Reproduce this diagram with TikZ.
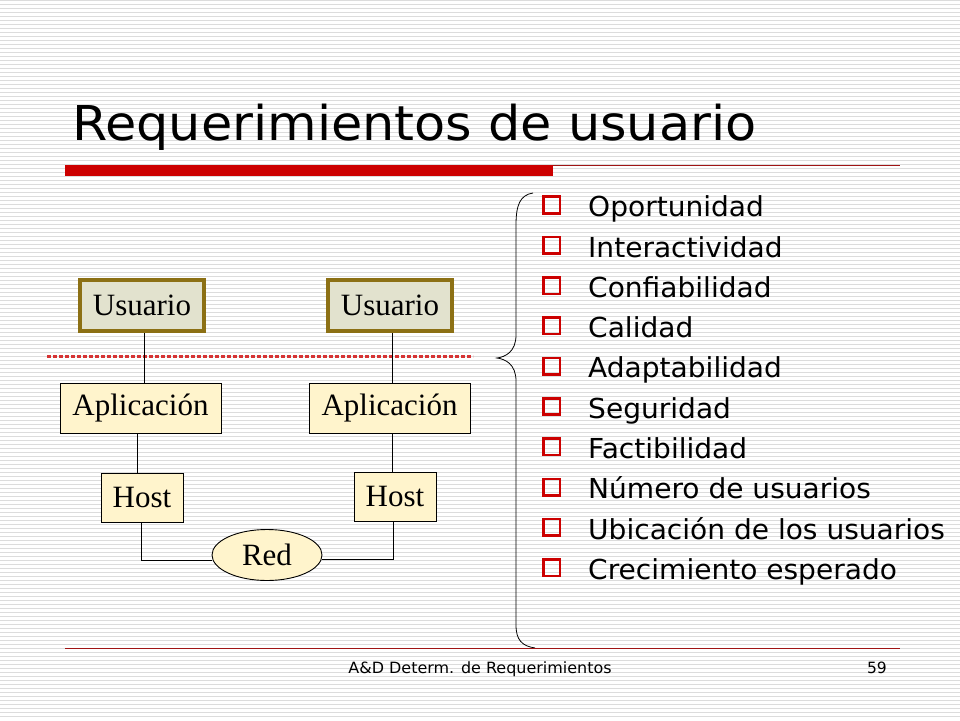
\documentclass[tikz,border=0pt]{standalone}
\usepackage{fontspec}
\setmainfont{Liberation Serif}
\newfontfamily\verd{DejaVu Sans}
\usepackage{tikz}
\usetikzlibrary{positioning, shapes.geometric}

\definecolor{slidered}{RGB}{204,0,0}
\definecolor{darkred}{RGB}{160,20,20}
\definecolor{stripegray}{RGB}{220,220,220}
\definecolor{olive}{RGB}{140,112,20}
\definecolor{usrfill}{RGB}{226,226,206}
\definecolor{boxfill}{RGB}{255,244,204}

\tikzset{
    usrbox/.style={draw=olive, line width=4pt, fill=usrfill,
        minimum width=124pt, minimum height=51pt, inner sep=0pt,
        font=\fontsize{31}{34}\selectfont},
    appbox/.style={draw, line width=0.9pt, fill=boxfill,
        minimum height=50pt, inner sep=0pt,
        font=\fontsize{31}{34}\selectfont},
    netell/.style={ellipse, draw, line width=0.9pt, fill=boxfill,
        minimum width=110pt, minimum height=51pt, inner sep=0pt,
        font=\fontsize{31}{34}\selectfont},
    link/.style={line width=0.9pt},
    item/.style={anchor=base west, inner sep=0pt,
        font=\verd\fontsize{27.5}{30}\selectfont},
    sqbox/.style={draw=slidered, line width=2.6pt, minimum size=16.5pt,
        inner sep=0pt, anchor=south west}
}

\begin{document}
\begin{tikzpicture}[x=1pt, y=-1pt]
    \useasboundingbox (0,0) rectangle (960,720);
    \fill[white] (0,0) rectangle (960,720);
    % striped background
    \foreach \y in {0,4,...,716}
        \draw[stripegray, line width=1pt] (0,\y+0.5) -- (960,\y+0.5);

    % title
    \node[anchor=base west, inner sep=0pt, font=\verd\fontsize{48}{52}\selectfont]
        (title) at (72,140) {\scalebox{1.06}[1]{Requerimientos de usuario}};
    \fill[slidered] (65,165) rectangle (553,176);
    \draw[darkred, line width=1pt] (553,165.5) -- (900,165.5);

    % left diagram
    \node[usrbox] (usr1) at (142,305.5) {Usuario};
    \node[usrbox] (usr2) at (390,305.5) {Usuario};
    \node[appbox, minimum width=161pt] (app1) at (140.5,408) {Aplicación};
    \node[appbox, minimum width=161pt] (app2) at (389.5,408) {Aplicación};
    \node[appbox, minimum width=82pt, minimum height=49pt] (host1) at (142,497.5) {Host};
    \node[appbox, minimum width=82pt, minimum height=49pt] (host2) at (395,496.5) {Host};
    \node[netell] (red) at (267,555) {Red};

    \draw[slidered!80!white, line width=3pt, dash pattern=on 4pt off 2pt]
        (47,356) -- (473,356);

    \draw[link] ([xshift=2pt]usr1.south) -- ([xshift=2pt]usr1.south |- app1.north);
    \draw[link] ([xshift=2pt]usr2.south) -- ([xshift=2pt]usr2.south |- app2.north);
    \draw[link] ([xshift=-3.5pt]app1.south) -- ([xshift=-3.5pt]app1.south |- host1.north);
    \draw[link] ([xshift=2.5pt]app2.south) -- ([xshift=2.5pt]app2.south |- host2.north);
    \draw[link] ([xshift=-1pt]host1.south) |- ([yshift=-5pt]red.west);
    \draw[link] ([xshift=-2pt]host2.south) |- ([yshift=-4pt]red.east);

    % brace
    \draw[line width=0.8pt] (533,193) .. controls (520,195) and (516,205) .. (516,225)
        -- (516,335) .. controls (516,352) and (505,357) .. (497,358)
        .. controls (505,359) and (516,364) .. (516,381)
        -- (516,625) .. controls (516,640) and (522,646) .. (535,648);

    % list of requirements
    \foreach \t [count=\i] in {Oportunidad, Interactividad, Confiabilidad, Calidad,
            Adaptabilidad, Seguridad, Factibilidad, Número de usuarios,
            Ubicación de los usuarios, Crecimiento esperado} {
        \node[item] (it\i) at (588,{216.7+40.3*(\i-1)}) {\scalebox{1.02}[1]{\t}};
        \node[sqbox] (sq\i) at ([xshift=-45.7pt, yshift=2.2pt]it\i.base west) {};
    }

    % footer
    \draw[darkred, line width=1pt] (65,648.5) -- (900,648.5);
    \node[anchor=base, inner sep=0pt, font=\verd\fontsize{15.5}{17}\selectfont]
        (foot) at (480,673) {\scalebox{1.03}[1]{A\&D Determ. de Requerimientos}};
    \node[anchor=base east, inner sep=0pt, font=\verd\fontsize{15.5}{17}\selectfont]
        (page) at (887,673) {59};
\end{tikzpicture}
\end{document}
